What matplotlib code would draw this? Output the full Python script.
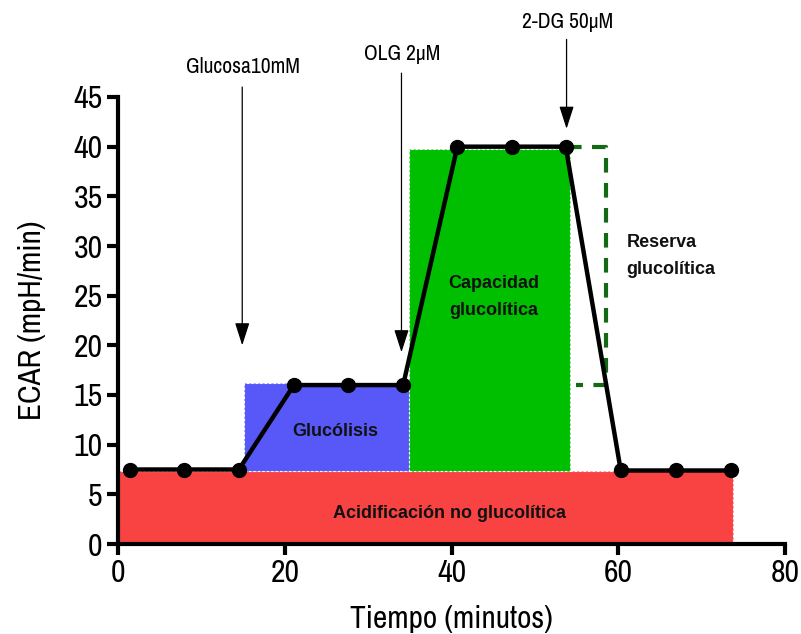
import matplotlib
matplotlib.use("Agg")
import matplotlib.pyplot as plt
from matplotlib.patches import Rectangle

narrow = ["Archivo Narrow", "Roboto Condensed", "DejaVu Sans"]

# data
time_min = [1.4, 7.9, 14.5, 21.1, 27.6, 34.2, 40.7, 47.3, 53.7, 60.3, 66.9, 73.5]
ecar = [7.5, 7.5, 7.5, 16.0, 16.0, 16.0, 40.0, 40.0, 40.0, 7.4, 7.4, 7.4]

# regions: (x0, x1, y0, y1)
reg_nonglyc = (0.0, 73.8, 0.0, 7.3)
reg_glyc = (15.1, 34.9, 7.3, 16.2)
reg_cap = (34.9, 54.2, 7.3, 39.8)
reg_reserve = (53.9, 58.5, 16.0, 40.0)

# injections: (x, label, text_y, line_top_y, tip_y)
injections = [
    (14.9, "Glucosa10mM", 48.0, 46.0, 20.0),
    (34.0, "OLG 2\u03bcM", 49.3, 47.4, 19.3),
    (53.8, "2-DG 50\u03bcM", 52.6, 50.8, 41.8),
]

xticks = [0, 20, 40, 60, 80]
yticks = list(range(0, 46, 5))

fig = plt.figure(figsize=(8.01, 6.34), dpi=100)
ax = fig.add_axes([118/801, (634-544)/634, (785-118)/801, (544-97)/634])
ax.set_xlim(0, 80)
ax.set_ylim(0, 45)

def rect(r, color, z):
    x0, x1, y0, y1 = r
    ax.add_patch(Rectangle((x0, y0), x1-x0, y1-y0, facecolor=color, edgecolor="white",
                           linestyle=(0, (2, 2)), linewidth=0.8, zorder=z))

rect(reg_nonglyc, "#f94343", 1)
rect(reg_glyc, "#5858f8", 1)
rect(reg_cap, "#00bf00", 1)

# reserve dashed outline (right part)
x0, x1, y0, y1 = reg_reserve
ax.plot([x0, x1, x1, x0+1.0], [y1, y1, y0, y0], color="#146a14", lw=3,
        linestyle=(0, (3.5, 2.5)), zorder=2, solid_capstyle="butt")

ax.plot(time_min, ecar, color="black", lw=3.2, marker="o", markersize=10, zorder=5)

bold = dict(family="Liberation Sans", fontweight="bold", fontsize=13, color="#111111")
ax.text(39.8, 3.1, "Acidificación no glucolítica", ha="center", va="center", zorder=6, **bold)
ax.text(26.0, 11.3, "Glucólisis", ha="center", va="center", zorder=6, **bold)
ax.text(45.1, 24.9, "Capacidad\nglucolítica", ha="center", va="center", zorder=6, linespacing=1.75, **bold)
ax.text(61.0, 29.0, "Reserva\nglucolítica", ha="left", va="center", zorder=6, linespacing=1.75, **bold)

for x, lab, ty, top, tip in injections:
    ax.annotate("", xy=(x, tip), xytext=(x, top), annotation_clip=False,
                arrowprops=dict(arrowstyle="-|>,head_length=1.4,head_width=0.45",
                                color="black", lw=0.9, shrinkA=0, shrinkB=0))
    ax.text(x + 0.1, ty, lab, ha="center", va="center", fontsize=15.5, family=narrow, clip_on=False)

for s in ["top", "right"]:
    ax.spines[s].set_visible(False)
for s in ["left", "bottom"]:
    ax.spines[s].set_linewidth(3)
ax.set_xticks(xticks)
ax.set_yticks(yticks)
ax.tick_params(width=3, length=8, direction="out", labelsize=23, pad=3)
for lbl in ax.get_xticklabels() + ax.get_yticklabels():
    lbl.set_family(narrow)
ax.set_xlabel("Tiempo (minutos)", fontsize=22.5, family=narrow, labelpad=13)
ax.set_ylabel("ECAR (mpH/min)", fontsize=22.5, family=narrow, labelpad=20)

fig.savefig("out.png", dpi=100)
